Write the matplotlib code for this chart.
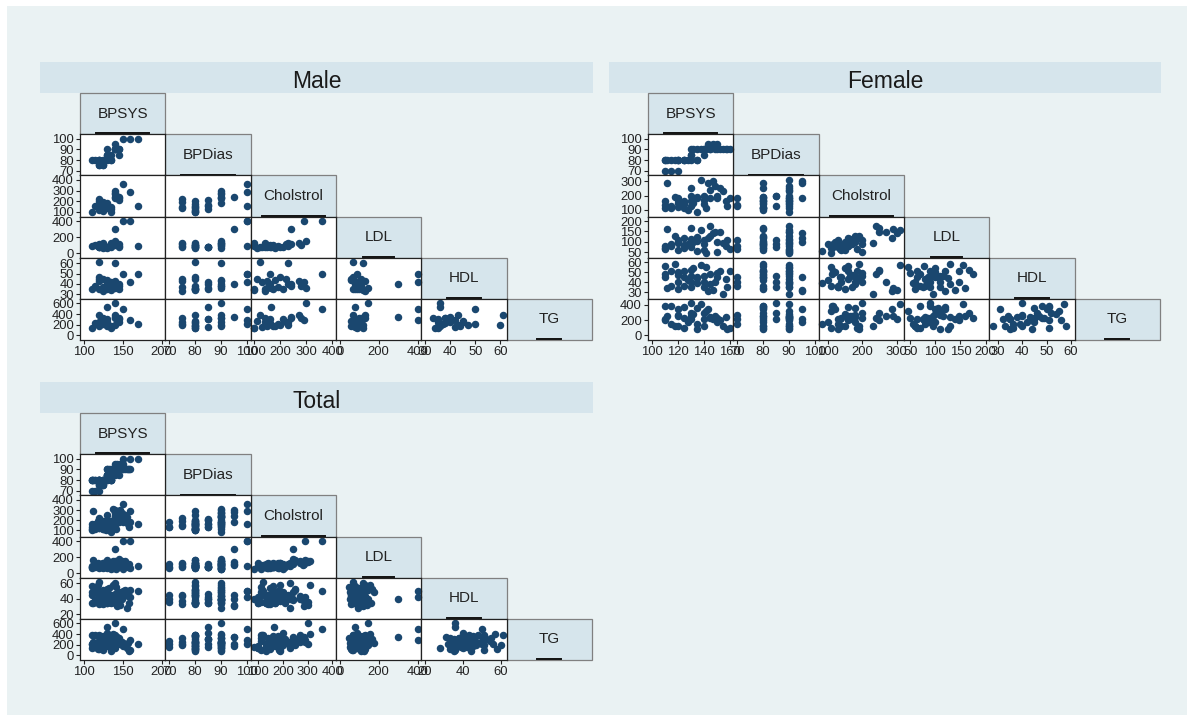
import numpy as np
import matplotlib
matplotlib.use('Agg')
import matplotlib.pyplot as plt
from matplotlib.patches import Rectangle
from matplotlib.lines import Line2D

plt.rcParams['font.family'] = ['Liberation Sans', 'DejaVu Sans']

variables = ['BPSYS', 'BPDias', 'Cholstrol', 'LDL', 'HDL', 'TG']

# ---------------- Male records ----------------
male_BPSYS = [110, 120, 140, 120, 120, 120, 125, 125, 130, 130, 130, 135, 135, 140,
              140, 140, 140, 145, 145, 150, 160, 170, 120, 135, 130, 125, 115, 145]
male_BPDias = [80, 80, 90, 75, 75, 80, 75, 80, 85, 85, 80, 80, 85, 95,
               90, 90, 90, 90, 90, 100, 100, 100, 80, 80, 90, 75, 80, 85]
male_Chol = [100, 120, 228, 220, 150, 170, 190, 110, 165, 160, 140, 150, 130, 240,
             270, 300, 280, 240, 230, 360, 290, 160, 200, 100, 180, 140, 160, 210]
male_LDL = [90, 70, 120, 110, 80, 100, 90, 60, 78, 80, 70, 100, 80, 300,
            130, 145, 100, 110, 90, 400, 400, 90, 70, 120, 60, 130, 100, 80]
male_HDL = [35, 61, 60, 45, 43, 35, 37, 45, 36, 40, 35, 36, 42, 40,
            43, 36, 38, 38, 40, 50, 42, 50, 47, 34, 44, 33, 38, 35]
male_TG = [130, 380, 200, 250, 200, 180, 220, 280, 540, 300, 250, 180, 150, 350,
           380, 600, 320, 320, 250, 500, 290, 210, 200, 130, 180, 330, 230, 300]

# ---------------- Female records ----------------
female_BPSYS = [110, 110, 110, 115, 115, 120, 120, 120, 120, 125, 125, 125, 130, 130,
                130, 130, 132, 135, 135, 135, 138, 140, 140, 140, 143, 145, 147, 149,
                150, 150, 153, 155, 157, 160, 158, 128, 118, 145, 112, 142]
female_BPDias = [80, 70, 80, 80, 70, 80, 70, 80, 80, 80, 80, 80, 80, 90,
                 85, 85, 90, 80, 90, 80, 90, 85, 90, 90, 95, 90, 95, 90,
                 90, 95, 90, 90, 90, 90, 90, 80, 80, 90, 80, 90]
female_Chol = [160, 135, 112, 115, 130, 120, 180, 150, 170, 160, 140, 110, 250, 165,
               200, 130, 150, 180, 85, 190, 310, 200, 140, 170, 285, 180, 300, 270,
               200, 180, 250, 230, 160, 185, 130, 100, 190, 240, 290, 110]
female_LDL = [78, 64, 70, 90, 80, 100, 110, 60, 95, 120, 85, 70, 168, 115,
              90, 75, 100, 105, 55, 125, 155, 110, 60, 90, 119, 130, 140, 147,
              50, 100, 147, 95, 80, 64, 110, 88, 130, 175, 160, 45]
female_HDL = [56, 45, 48, 51, 36, 50, 40, 33, 47, 51, 45, 36, 52, 46,
              40, 35, 54, 45, 39, 44, 57, 46, 40, 35, 31, 38, 32, 40,
              49, 45, 51, 28, 43, 51, 35, 42, 58, 48, 34, 55]
female_TG = [206, 210, 380, 390, 150, 350, 270, 120, 260, 370, 230, 100, 300, 250,
             420, 210, 280, 360, 150, 80, 410, 300, 130, 220, 350, 240, 210, 260,
             230, 180, 200, 130, 240, 100, 80, 180, 120, 230, 250, 320]

# ---------------- Tick labels per panel ----------------
male_ticks = [[100, 150, 200], [70, 80, 90, 100], [100, 200, 300, 400],
              [0, 200, 400], [30, 40, 50, 60], [0, 200, 400, 600]]
female_ticks = [[100, 120, 140, 160], [70, 80, 90, 100], [100, 200, 300],
                [50, 100, 150, 200], [30, 40, 50, 60], [0, 200, 400]]
total_ticks = [[100, 150, 200], [70, 80, 90, 100], [100, 200, 300, 400],
               [0, 200, 400], [20, 40, 60], [0, 200, 400, 600]]

group_titles = ['Male', 'Female', 'Total']

male_data = [male_BPSYS, male_BPDias, male_Chol, male_LDL, male_HDL, male_TG]
female_data = [female_BPSYS, female_BPDias, female_Chol, female_LDL, female_HDL, female_TG]
total_data = [list(m) + list(f) for m, f in zip(male_data, female_data)]

# ---------------- Style ----------------
W, H = 1187, 715
BG = '#EAF2F3'
BAR = '#D6E5EC'
NAVY = '#1A476F'
FONT_TICK = 9.4

fig = plt.figure(figsize=(W / 100, H / 100), dpi=100)
fig.patch.set_facecolor('white')


def px_rect(x, y, w, h):
    return [x / W, 1 - (y + h) / H, w / W, h / H]


fig.add_artist(Rectangle((7 / W, 0), 1 - 7 / W, 1 - 6 / H, transform=fig.transFigure,
                         facecolor=BG, edgecolor='none', zorder=-10))

layouts = [
    # bar_x, bar_y, bar_w, grid_x0, grid_y0
    (40, 62, 553, 80, 93),
    (609, 62, 552, 648, 93),
    (40, 382, 553, 80, 413),
]
cw = 85.33
rh = 41.17
MX = 3.8   # plot-region margin in px (horizontal)
MY = 4.6   # plot-region margin in px (vertical)

renderer = fig.canvas.get_renderer()


def axis_limits(vals, ticks, size_px, margin_px):
    lo = min(min(vals), min(ticks))
    hi = max(max(vals), max(ticks))
    per_px = (hi - lo) / (size_px - 2 * margin_px)
    return lo - margin_px * per_px, hi + margin_px * per_px


for title, data, ticks, (bx, by, bw, gx, gy) in zip(
        group_titles, [male_data, female_data, total_data],
        [male_ticks, female_ticks, total_ticks], layouts):
    # Title bar
    fig.add_artist(Rectangle((bx / W, 1 - (by + 31) / H), bw / W, 31 / H,
                             transform=fig.transFigure, facecolor=BAR,
                             edgecolor='none', zorder=-5))
    fig.text((bx + bw / 2) / W, 1 - (by + 16.5) / H, title, ha='center',
             va='center_baseline', fontsize=16.5, color='#1a1a1a')

    xlims = [axis_limits(v, t, cw, MX) for v, t in zip(data, ticks)]
    ylims = [axis_limits(v, t, rh, MY) for v, t in zip(data, ticks)]

    # Diagonal label boxes
    for i, name in enumerate(variables):
        x = gx + i * cw
        y = gy + i * rh
        fig.add_artist(Rectangle((x / W, 1 - (y + rh) / H), cw / W, rh / H,
                                 transform=fig.transFigure, facecolor=BAR,
                                 edgecolor='#808080', lw=0.9, zorder=0.5))
        t = fig.text((x + cw / 2) / W, 1 - (y + rh / 2) / H, name, ha='center',
                     va='center', fontsize=11, color='#222222', zorder=0.6)
        bb = t.get_window_extent(renderer)
        half = bb.width / 2 + 1.5
        cx = x + cw / 2
        ly = y + rh - 0.8
        fig.add_artist(Line2D([(cx - half) / W, (cx + half) / W],
                              [1 - ly / H, 1 - ly / H], transform=fig.transFigure,
                              color='#111111', lw=1.4, zorder=0.7))

    # Scatter cells
    for i in range(1, 6):
        for j in range(i):
            ax = fig.add_axes(px_rect(gx + j * cw, gy + i * rh, cw, rh))
            ax.set_zorder(2)
            ax.set_facecolor('white')
            ax.plot(data[j], data[i], 'o', color=NAVY, markersize=5.4,
                    markeredgewidth=0, clip_on=False)
            ax.set_xlim(*xlims[j])
            ax.set_ylim(*ylims[i])
            for s in ax.spines.values():
                s.set_color('#222222')
                s.set_linewidth(0.9)
            ax.tick_params(direction='out', length=3.2, width=0.8, color='#222222',
                           labelsize=FONT_TICK, pad=1.2, labelcolor='#222222')
            if j == 0:
                ax.set_yticks(ticks[i])
                ax.set_yticklabels([str(v) for v in ticks[i]])
            else:
                ax.set_yticks([])
            if i == 5:
                ax.set_xticks(ticks[j])
                ax.set_xticklabels([str(v) for v in ticks[j]])
            else:
                ax.set_xticks([])

fig.savefig('out.png', dpi=100, facecolor=fig.get_facecolor())
